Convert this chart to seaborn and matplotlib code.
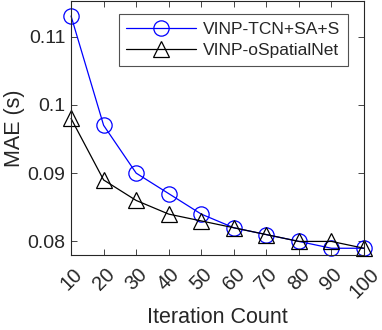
import pandas as pd
import numpy as np
import seaborn as sns
import matplotlib
matplotlib.use("Agg")
import matplotlib.pyplot as plt

# data
iterations = [10, 20, 30, 40, 50, 60, 70, 80, 90, 100]
mae_tcn = [0.113, 0.097, 0.090, 0.087, 0.084, 0.082, 0.081, 0.080, 0.079, 0.079]
mae_spatial = [0.098, 0.089, 0.086, 0.084, 0.083, 0.082, 0.081, 0.080, 0.080, 0.079]
series_names = ["VINP-TCN+SA+S", "VINP-oSpatialNet"]

sns.set_style("white")
plt.rcParams['font.family'] = ['Liberation Sans', 'DejaVu Sans']

fig = plt.figure(figsize=(3.82, 3.30), dpi=100)
ax = fig.add_axes([0.186, 0.227, 0.767, 0.770])

df = pd.DataFrame({
    "Iteration": iterations * 2,
    "MAE": mae_tcn + mae_spatial,
    "Model": [series_names[0]] * len(iterations) + [series_names[1]] * len(iterations),
})

styles = {
    series_names[0]: dict(color="#0000ff", marker="o", ms=11),
    series_names[1]: dict(color="black", marker="^", ms=11),
}

for name in series_names:
    st = styles[name]
    sns.lineplot(data=df[df["Model"] == name], x="Iteration", y="MAE", ax=ax,
                 color=st["color"], marker=st["marker"], markersize=st["ms"],
                 markerfacecolor="none", markeredgecolor=st["color"],
                 markeredgewidth=0.9, linewidth=0.9, label=name, clip_on=False)

ax.set_xlim(10, 100)
ax.set_ylim(0.078, 0.1152)
ax.set_xticks(iterations)
ax.set_xticklabels([str(v) for v in iterations], rotation=45, fontsize=14.5,
                   color="#262626")
ax.set_yticks([0.08, 0.09, 0.1, 0.11])
ax.set_yticklabels(["0.08", "0.09", "0.1", "0.11"], fontsize=14, color="#262626")
ax.set_xlabel("Iteration Count", fontsize=15.5, color="#262626", labelpad=4)
ax.set_ylabel("MAE (s)", fontsize=15.5, color="#262626", labelpad=2)

ax.tick_params(direction="in", length=4, width=0.6, top=True, right=True,
               bottom=True, left=True)
ax.tick_params(axis="x", pad=7)
ax.tick_params(axis="y", pad=4)
for sp in ax.spines.values():
    sp.set_visible(True)
    sp.set_color("#262626")
    sp.set_linewidth(0.8)

leg = ax.legend(loc="upper right", fontsize=12.5, frameon=True, fancybox=False,
                edgecolor="#262626", borderpad=0.45, handlelength=4.0,
                handletextpad=0.4, bbox_to_anchor=(0.945, 0.949),
                labelspacing=0.35, borderaxespad=0)
leg.get_frame().set_linewidth(0.8)

fig.savefig("out.png", dpi=100)
